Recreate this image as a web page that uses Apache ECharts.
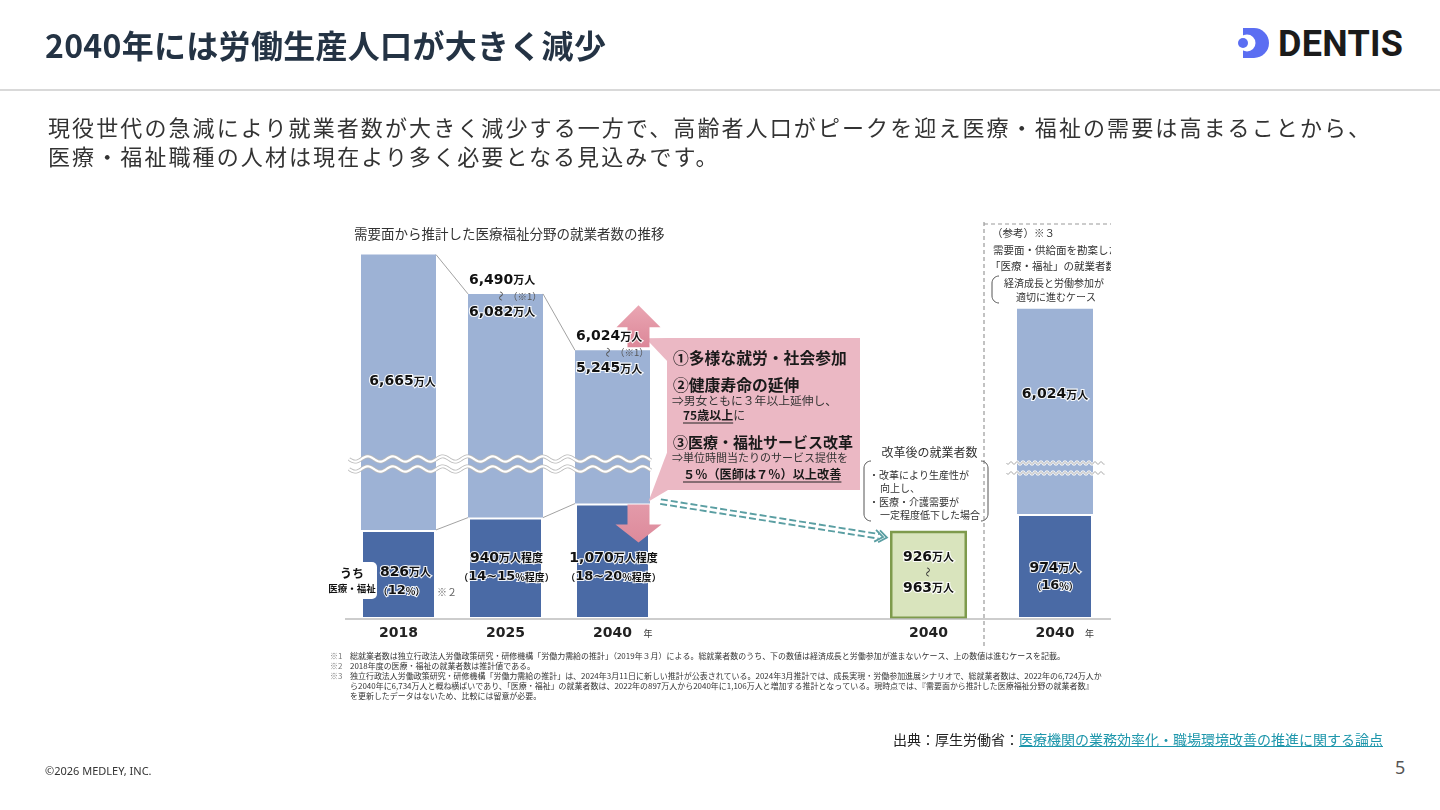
<!DOCTYPE html>
<html lang="ja">
<head>
<meta charset="utf-8">
<title>2040年には労働生産人口が大きく減少</title>
<script src="https://cdn.jsdelivr.net/npm/echarts@6.0.0/dist/echarts.min.js"></script>
<style>
  html, body { margin:0; padding:0; background:#fff; }
  body { width:1440px; height:810px; position:relative; overflow:hidden; font-family:"Noto Sans CJK JP","Noto Sans",sans-serif; color:#333; }
  #chart { position:absolute; left:0; top:0; width:1111px; height:810px; }
  .title { position:absolute; left:45px; top:28px; font-size:32px; line-height:32px; font-weight:700; color:#243344; white-space:nowrap; letter-spacing:0.3px; }
  .rule { position:absolute; left:0; top:89px; width:1440px; height:2px; background:#d9d9d9; }
  .lead { position:absolute; left:48px; top:112px; font-size:22px; line-height:29px; letter-spacing:2.1px; color:#333; white-space:nowrap; }
  .logo { position:absolute; left:1236px; top:26px; }
  .logo-text { position:absolute; left:1278px; top:26px; font-family:Roboto,"Liberation Sans",sans-serif; font-weight:700; font-size:36px; line-height:36px; color:#1b1b1b; letter-spacing:0.3px; }
  .source { position:absolute; left:893px; top:729px; font-size:14px; line-height:20px; color:#222; white-space:nowrap; }
  .source a { color:#1d96ab; text-decoration:underline; }
  .copy { position:absolute; left:45px; top:763px; font-family:"Noto Sans",sans-serif; font-size:11px; line-height:16px; color:#333; }
  .page { position:absolute; left:1395px; top:755px; font-family:"Noto Sans",sans-serif; font-size:18px; line-height:24px; color:#555; }
</style>
</head>
<body>
<div id="chart"></div>
<div class="title">2040年には労働生産人口が大きく減少</div>
<svg class="logo" width="40" height="36" viewBox="0 0 40 36">
  <path d="M7,2 L18,2 A15,15 0 0 1 18,32 L7,32 Z" fill="#5b6ef2"/>
  <circle cx="11" cy="17" r="8.5" fill="#fff"/>
  <circle cx="7" cy="17" r="5" fill="#5b6ef2"/>
</svg>
<div class="logo-text">DENTIS</div>
<div class="rule"></div>
<div class="lead">現役世代の急減により就業者数が大きく減少する一方で、高齢者人口がピークを迎え医療・福祉の需要は高まることから、<br>医療・福祉職種の人材は現在より多く必要となる見込みです。</div>
<div class="source">出典：厚生労働省：<a>医療機関の業務効率化・職場環境改善の推進に関する論点</a></div>
<div class="copy">©2026 MEDLEY, INC.</div>
<div class="page">5</div>
<script>
// ---------------- data ----------------
const categories = ['2018', '2025', '2040'];
const totalLower = [6665, 6082, 5245];      // 総就業者数（下の数値）
const totalUpper = [null, 6490, 6024];      // 総就業者数（上の数値）
const medical = [826, 940, 1070];           // うち医療・福祉
const medicalUnit = ['万人', '万人程度', '万人程度'];
const medicalShare = ['12', '14~15', '18~20'];
const shareUnit = ['%', '%程度', '%程度'];
const reformCategory = ['2040'];
const reformRange = [926, 963];             // 改革後の就業者数
const refCategory = ['2040'];
const refTotal = [6024];                    // 参考：総就業者数
const refMedical = [974];                   // 参考：医療・福祉
const refShare = ['16'];
const upperRange = [3500, 7000];            // axis above the break
const lowerRange = [0, 1400];               // axis below the break
const reformAxisRange = [0, 1650];          // 改革後 panel axis

// ---------------- style ----------------
const LIGHT = '#9db2d5', DARK = '#4a6aa5';
const JP = '"Noto Sans CJK JP", "Noto Sans", sans-serif';
const NUM = '"DejaVu Sans", "Noto Sans", sans-serif';

const chart = echarts.init(document.getElementById('chart'));
const grids = [
  {left:345, top:232, width:321, height:236},
  {left:345, top:468, width:321, height:151},
  {left:880, top:468, width:97, height:151},
  {left:1006, top:247, width:98, height:221},
  {left:1006, top:468, width:98, height:151}
];
const xData = [categories, categories, reformCategory, refCategory, refCategory];
const xLabelShow = [false, true, true, false, true];
const yRange = [upperRange, lowerRange, reformAxisRange, upperRange, lowerRange];
const barBase = {type:'bar', silent:true, clip:true, animation:false};

chart.setOption({
  animation:false,
  grid: grids,
  xAxis: xData.map((d, i) => ({
    type:'category', gridIndex:i, data:d,
    axisLine:{show:false}, axisTick:{show:false}, splitLine:{show:false},
    axisLabel:{show:xLabelShow[i], margin:7, fontFamily:NUM, fontWeight:'bold', fontSize:14, color:'#222'}
  })),
  yAxis: yRange.map((r, i) => ({type:'value', gridIndex:i, min:r[0], max:r[1], show:false, splitLine:{show:false}})),
  series: [
    {...barBase, xAxisIndex:1, yAxisIndex:1, stack:'main', barWidth:75, data:medical,
      itemStyle:{color:DARK, borderColor:'#fff', borderWidth:2}},
    {...barBase, xAxisIndex:1, yAxisIndex:1, stack:'main', barWidth:75,
      data:totalLower.map((t, i) => t - medical[i]), itemStyle:{color:LIGHT}},
    {...barBase, xAxisIndex:0, yAxisIndex:0, barWidth:75, data:totalLower, itemStyle:{color:LIGHT}},
    {...barBase, xAxisIndex:2, yAxisIndex:2, barWidth:77, data:[reformRange[1]],
      itemStyle:{color:'#d9e4bd', borderColor:'#7e9a4c', borderWidth:2.5}},
    {...barBase, xAxisIndex:4, yAxisIndex:4, stack:'ref', barWidth:76, data:refMedical,
      itemStyle:{color:DARK, borderColor:'#fff', borderWidth:2}},
    {...barBase, xAxisIndex:4, yAxisIndex:4, stack:'ref', barWidth:76,
      data:refTotal.map((t, i) => t - refMedical[i]), itemStyle:{color:LIGHT}},
    {...barBase, xAxisIndex:3, yAxisIndex:3, barWidth:76, data:refTotal, itemStyle:{color:LIGHT}}
  ]
});

// ---------------- annotations (positions derived from the axes) ----------------
const P = (g, c, v) => chart.convertToPixel({gridIndex:g}, [c, v]);
const fmt = v => v.toLocaleString('en-US');
const mctx = document.createElement('canvas').getContext('2d');
const measure = (text, size, weight) => { mctx.font = `${weight} ${size}px ${JP}`; return mctx.measureText(text).width; };

const G = [];
function T(x, y, text, st, z, rot) {
  G.push({type:'text', x, y, z:z || 12, silent:true, rotation:rot || 0,
    style:Object.assign({text, fill:'#222', fontFamily:JP, fontSize:12, fontWeight:'normal', align:'left', verticalAlign:'middle'}, st || {})});
}
function L(x1, y1, x2, y2, st, z) { G.push({type:'line', z:z || 6, silent:true, shape:{x1, y1, x2, y2}, style:Object.assign({stroke:'#888', lineWidth:1}, st || {})}); }
function PL(points, st, z) { G.push({type:'polyline', z:z || 6, silent:true, shape:{points}, style:Object.assign({stroke:'#888', lineWidth:1}, st || {})}); }
function PG(points, st, z) { G.push({type:'polygon', z:z || 5, silent:true, shape:{points}, style:Object.assign({fill:'#ccc'}, st || {})}); }
function R(x, y, w, h, st, r, z) { G.push({type:'rect', z:z || 5, silent:true, shape:{x, y, width:w, height:h, r:r || 0}, style:Object.assign({fill:'#fff'}, st || {})}); }
// vertical wave dash "≀" between a range of numbers
const TILDE = (x, y, col) => T(x, y, '～', {align:'center', fontSize:10, fill:col || '#444'}, 12, Math.PI / 2);

const halo = {stroke:'rgba(255,255,255,0.9)', lineWidth:2.2};
const RICH = {
  n:Object.assign({fontFamily:NUM, fontWeight:'bold', fontSize:14, fill:'#111'}, halo),
  m:Object.assign({fontFamily:NUM, fontWeight:'bold', fontSize:13, fill:'#111'}, halo),
  u:Object.assign({fontFamily:JP, fontWeight:'bold', fontSize:11, fill:'#111'}, halo),
  s:Object.assign({fontFamily:JP, fontWeight:'bold', fontSize:10, fill:'#111'}, halo),
  p:Object.assign({fontFamily:JP, fontWeight:'bold', fontSize:9.5, fill:'#111'}, halo)
};
const num = (v, unit) => `{n|${fmt(v)}}{u|${unit}}`;
const share = (s, unit) => `{p|（}{m|${s}}{s|${unit}}{p|）}`;

const half = 37.5;
const base = P(1, 0, 0)[1];

// chart title
T(354, 234, '需要面から推計した医療福祉分野の就業者数の推移', {fontSize:13.5, fill:'#333'});

// baseline
L(345, base, 1111, base, {stroke:'#bdbdbd', lineWidth:1.5}, 4);

// connectors between bar tops
for (let i = 0; i < categories.length - 1; i++) {
  const a = P(0, i, totalLower[i]), b = P(0, i + 1, totalLower[i + 1]);
  L(a[0] + half, a[1], b[0] - half, b[1], {stroke:'#8a8a8a', lineWidth:0.8});
  const c = P(1, i, medical[i]), d = P(1, i + 1, medical[i + 1]);
  L(c[0] + half, c[1], d[0] - half, d[1], {stroke:'#8a8a8a', lineWidth:0.8});
}

// break waves
function wave(x0, x1, yc, period, amp) {
  const pts = [];
  for (let x = x0; x <= x1; x += 1) pts.push([x, yc + amp * Math.sin((x - x0) / period * Math.PI * 2)]);
  return pts;
}
const wx0 = P(1, 0, 0)[0] - half - 12, wx1 = P(1, 2, 0)[0] + half + 1;
[459, 469].forEach(y => {
  PL(wave(wx0, wx1, y, 25, 2.6), {stroke:'#b9b9b9', lineWidth:3.8}, 7);
  PL(wave(wx0, wx1, y, 25, 2.6), {stroke:'#ffffff', lineWidth:2.2}, 8);
});
const rx0 = P(4, 0, 0)[0] - half - 11, rx1 = P(4, 0, 0)[0] + 50;
[463, 473].forEach(y => {
  PL(wave(rx0, rx1, y, 6, 1.4), {stroke:'#ffffff', lineWidth:2.4}, 7);
  PL(wave(rx0, rx1, y, 6, 1.4), {stroke:'#a5a5a5', lineWidth:0.9}, 8);
});

// bar labels (main)
categories.forEach((c, i) => {
  const [cx, top] = P(0, i, totalLower[i]);
  const left = cx - half;
  if (totalUpper[i] == null) {
    T(cx + 4, top + 127, num(totalLower[i], '万人'), {align:'center', rich:RICH});
  } else {
    T(left + 1, top - 14, num(totalUpper[i], '万人'), {rich:RICH});
    TILDE(left + 33, top + 2, '#555');
    T(left + 40, top + 2, '（※1）', {fontSize:9.5, fill:'#555'});
    T(left + 1, top + 18, num(totalLower[i], '万人'), {rich:RICH});
  }
  const dcx = P(1, i, 0)[0];
  const first = i === 0;
  T(dcx + (first ? 7 : 1), base - (first ? 47 : 61), num(medical[i], medicalUnit[i]), {align:'center', rich:RICH});
  T(dcx + (first ? 3 : 1), base - (first ? 28 : 42), share(medicalShare[i], shareUnit[i]), {align:'center', rich:RICH});
});
T(P(1, 0, 0)[0] + half + 1, base - 27, '※２', {fontSize:10, fill:'#666'});
T(P(1, 2, 0)[0] + 31, base + 15, '年', {fontSize:9, fill:'#333'});

// うち医療・福祉 tag
R(327, 562, 50, 37, {fill:'#ffffff'}, 5, 9);
T(352, 573, 'うち', {align:'center', fontSize:12, fontWeight:'bold', fill:'#111'});
T(352, 588, '医療・福祉', {align:'center', fontSize:9.5, fontWeight:'bold', fill:'#111'});

// pink arrows on the 2040 bar
const b40 = P(0, 2, totalLower[2]);
const d40 = P(1, 2, medical[2]);
const ax = b40[0] + 26;
const pinkGrad = new echarts.graphic.LinearGradient(0, 0, 0, 1, [{offset:0, color:'#eaa6b3'}, {offset:1, color:'#dc8798'}]);
PG([[ax, b40[1] - 45], [ax + 22, b40[1] - 23], [ax + 11, b40[1] - 23], [ax + 11, b40[1] - 3],
    [ax - 11, b40[1] - 3], [ax - 11, b40[1] - 23], [ax - 22, b40[1] - 23]], {fill:pinkGrad}, 6);
PG([[ax - 11, d40[1] + 1], [ax + 11, d40[1] + 1], [ax + 11, d40[1] + 21], [ax + 23, d40[1] + 21],
    [ax, d40[1] + 39], [ax - 23, d40[1] + 21], [ax - 11, d40[1] + 21]],
   {fill:new echarts.graphic.LinearGradient(0, 0, 0, 1, [{offset:0, color:'#e39aa9'}, {offset:1, color:'#dd8a9b'}])}, 6);

// pink callout box
const PINK = '#ebb8c4';
PG([[b40[0] + 33, b40[1] - 12], [668, 338], [668, 362]], {fill:PINK}, 5);
PG([[668, 450], [b40[0] + 36, d40[1] - 2], [668, 490]], {fill:PINK}, 5);
R(667, 338, 193, 152, {fill:PINK}, 0, 5);
T(673, 358, '①多様な就労・社会参加', {fontSize:15.8, fontWeight:'bold', fill:'#1a1a1a'});
T(673, 385, '②健康寿命の延伸', {fontSize:15.8, fontWeight:'bold', fill:'#1a1a1a'});
T(672, 401, '⇒男女ともに３年以上延伸し、', {fontSize:11.8, fill:'#333'});
const u1 = '75歳以上';
T(683, 415, `{b|${u1}}{r|に}`, {rich:{b:{fontFamily:JP, fontSize:12, fontWeight:'bold', fill:'#1a1a1a'}, r:{fontFamily:JP, fontSize:12, fill:'#333'}}});
L(683, 423, 683 + measure(u1, 12, 'bold'), 423, {stroke:'#222', lineWidth:1}, 12);
T(673, 442, '③医療・福祉サービス改革', {fontSize:15, fontWeight:'bold', fill:'#1a1a1a'});
T(672, 458, '⇒単位時間当たりのサービス提供を', {fontSize:11, fill:'#333'});
const u2 = '５％（医師は７％）以上改善';
T(683, 474, u2, {fontSize:12.2, fontWeight:'bold', fill:'#1a1a1a'});
L(683, 482, 683 + measure(u2, 12.2, 'bold'), 482, {stroke:'#222', lineWidth:1}, 12);

// teal dashed arrow to the reform box
const rb = P(2, 0, 0);
const S = [ax + 22, d40[1] - 2];
const E = [rb[0] - 38.5 - 7, base - 82];
const dx = E[0] - S[0], dy = E[1] - S[1], len = Math.hypot(dx, dy);
const ux = dx / len, uy = dy / len, nx = -uy, ny = ux;
const TEAL = '#5a9ea2';
[-2.3, 2.3].forEach(o => {
  L(S[0] + nx * o, S[1] + ny * o, E[0] + nx * o - ux * 4, E[1] + ny * o - uy * 4, {stroke:TEAL, lineWidth:1.9, lineDash:[7, 3]}, 6);
});
[0, -4].forEach(k => {
  const tx = E[0] + ux * (4 + k), ty = E[1] + uy * (4 + k);
  PL([[tx - ux * 8 + nx * 6, ty - uy * 8 + ny * 6], [tx, ty], [tx - ux * 8 - nx * 6, ty - uy * 8 - ny * 6]], {stroke:TEAL, lineWidth:1.8}, 6);
});

// reform box labels and note
T(rb[0], base - 62, num(reformRange[0], '万人'), {align:'center', rich:RICH});
TILDE(rb[0], base - 47, '#333');
T(rb[0], base - 31, num(reformRange[1], '万人'), {align:'center', rich:RICH});
T(rb[0] + 1, 452, '改革後の就業者数', {align:'center', fontSize:12, fill:'#333'});
function paren(x, y0, y1, dir) {
  const pts = [];
  const r = 7;
  for (let k = 0; k <= 8; k++) { const a = Math.PI / 2 * k / 8; pts.push([x + dir * r * (1 - Math.sin(a)), y0 + r * (1 - Math.cos(a))]); }
  for (let k = 0; k <= 8; k++) { const a = Math.PI / 2 * k / 8; pts.push([x + dir * r * (1 - Math.cos(a)), y1 - r + r * Math.sin(a)]); }
  return pts;
}
PL(paren(864, 461, 521, 1), {stroke:'#555', lineWidth:1}, 6);
PL(paren(988, 461, 521, -1), {stroke:'#555', lineWidth:1}, 6);
T(869, 475, '・改革により生産性が', {fontSize:10, fill:'#333'});
T(880, 488, '向上し、', {fontSize:10, fill:'#333'});
T(869, 502, '・医療・介護需要が', {fontSize:10, fill:'#333'});
T(880, 515, '一定程度低下した場合', {fontSize:10, fill:'#333'});

// reference (参考) block
const fb = P(3, 0, refTotal[0]);
const fd = P(4, 0, 0);
T(fb[0], (fb[1] + P(3, 0, upperRange[0])[1]) / 2 + 6, num(refTotal[0], '万人'), {align:'center', rich:RICH});
T(fd[0], base - 51, num(refMedical[0], '万人'), {align:'center', rich:RICH});
T(fd[0], base - 33, share(refShare[0], '%'), {align:'center', rich:RICH});
T(fd[0] + 30, base + 15, '年', {fontSize:9, fill:'#333'});
L(984, 222, 984, 646, {stroke:'#9a9a9a', lineWidth:1.2, lineDash:[4, 3]}, 4);
L(984, 224, 1111, 224, {stroke:'#9a9a9a', lineWidth:1.2, lineDash:[4, 3]}, 4);
T(992, 233, '（参考）※３', {fontSize:10.5, fill:'#333'});
T(993, 250, '需要面・供給面を勘案した', {fontSize:10.5, fill:'#333'});
T(990, 266, '「医療・福祉」の就業者数', {fontSize:10.5, fill:'#333'});
PL(paren(992, 276, 303, 1), {stroke:'#555', lineWidth:1}, 6);
T(1004, 283, '経済成長と労働参加が', {fontSize:10, fill:'#333'});
T(1016, 297, '適切に進むケース', {fontSize:10, fill:'#333'});

// footnotes
const notes = [
  ['※1', '総就業者数は独立行政法人労働政策研究・研修機構「労働力需給の推計」（2019年３月）による。総就業者数のうち、下の数値は経済成長と労働参加が進まないケース、上の数値は進むケースを記載。'],
  ['※2', '2018年度の医療・福祉の就業者数は推計値である。'],
  ['※3', '独立行政法人労働政策研究・研修機構「労働力需給の推計」は、2024年3月11日に新しい推計が公表されている。2024年3月推計では、成長実現・労働参加進展シナリオで、総就業者数は、2022年の6,724万人か'],
  ['', 'ら2040年に6,734万人と概ね横ばいであり、「医療・福祉」の就業者数は、2022年の897万人から2040年に1,106万人と増加する推計となっている。現時点では、『需要面から推計した医療福祉分野の就業者数』'],
  ['', 'を更新したデータはないため、比較には留意が必要。']
];
let fs = 8 * 752 / measure(notes[2][1], 8, 'normal');
fs = Math.max(7, Math.min(9, fs));
notes.forEach((n, k) => {
  const y = 656 + k * 10;
  if (n[0]) T(330, y, n[0], {fontSize:fs, fill:'#777'});
  T(350, y, n[1], {fontSize:fs, fill:'#333'});
});

chart.setOption({graphic:{elements:G}});
</script>
</body>
</html>
